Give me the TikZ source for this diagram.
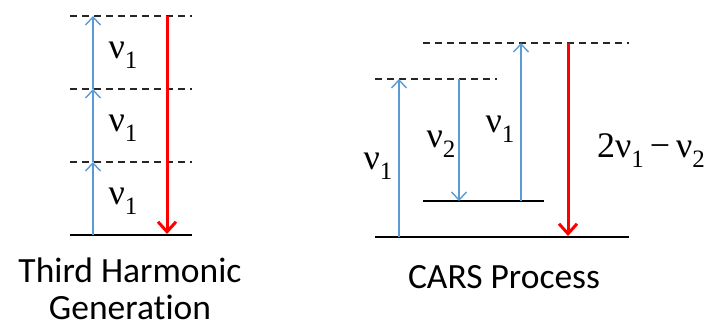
\RequirePackage{fix-cm}
\documentclass[tikz,border=0pt]{standalone}
\usepackage{fontspec}
\setmainfont{Carlito}[Ligatures=NoCommon]
\newfontfamily\nufont{Liberation Serif}
\usetikzlibrary{arrows.meta}
\definecolor{photon}{HTML}{5B9BD5}
\newcommand{\nusub}[1]{ν\raisebox{-0.28em}{\fontsize{25}{25}\selectfont #1}}
\tikzset{
  level/.style={line width=1.8pt, black},
  virt/.style={line width=1.5pt, black!85, dash pattern=on 7pt off 5pt},
  pump/.style={line width=1.4pt, photon, -{Straight Barb[length=8pt,width=15pt,line width=1.4pt]}},
  emit/.style={line width=3pt, red, -{Straight Barb[length=10pt,width=18pt,line width=3pt]}},
  lab/.style={font=\nufont\fontsize{36}{40}\selectfont, inner sep=0pt},
  captext/.style={font=\fontsize{35.5}{40}\selectfont, inner sep=0pt, anchor=base}
}
\begin{document}
\begin{tikzpicture}[x=1pt,y=-1pt]
\useasboundingbox (0,0) rectangle (711,328);
% ---- Third harmonic generation ----
\draw[level] (70,235) coordinate (g0) -- (192,235) coordinate (g1);
\draw[virt] (70,162) -- (192,162);
\draw[virt] (70,89) -- (192,89);
\draw[virt] (70,16) -- (192,16);
\coordinate (t0) at (93,235);
\coordinate (t1) at (93,162);
\coordinate (t2) at (93,89);
\coordinate (t3) at (93,16);
\draw[pump] (t0) -- (t1);
\draw[pump] (t1) -- (t2);
\draw[pump] (t2) -- (t3);
\coordinate (r0) at (167,16);
\coordinate (r1) at (167,234);
\draw[emit] (r0) -- (r1);
\node[lab] (l1) at (123,55) {\nusub{1}};
\node[lab] (l2) at (123,128) {\nusub{1}};
\node[lab] (l3) at (123,201) {\nusub{1}};
\node[captext] (thg1) at (130,282) {Third Harmonic};
\node[captext] (thg2) at (130,319) {Generation};
% ---- CARS ----
\draw[level] (375,237) -- (629,237);
\draw[level] (423,201) -- (544,201);
\draw[virt] (375,79) -- (497,79);
\draw[virt] (423,43) -- (629,43);
\coordinate (a0) at (399,237);
\coordinate (a1) at (399,79);
\coordinate (b0) at (459,79);
\coordinate (b1) at (459,201);
\coordinate (c0) at (521,201);
\coordinate (c1) at (521,43);
\coordinate (d0) at (568,43);
\coordinate (d1) at (568,236);
\draw[pump] (a0) -- (a1);
\draw[pump] (b0) -- (b1);
\draw[pump] (c0) -- (c1);
\draw[emit] (d0) -- (d1);
\node[lab] (m1) at (378,166) {\nusub{1}};
\node[lab] (m2) at (441,144) {\nusub{2}};
\node[lab] (m3) at (500,129) {\nusub{1}};
\node[lab] (m4) at (651,151) {2\nusub{1}\,−\,\nusub{2}};
\node[captext] (cars) at (504,288) {CARS Process};
\end{tikzpicture}
\end{document}
